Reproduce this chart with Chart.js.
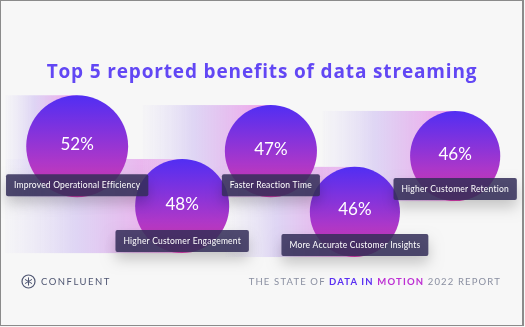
<!DOCTYPE html>
<html>
<head>
<meta charset="utf-8">
<script src="https://cdn.jsdelivr.net/npm/chart.js@4.4.1/dist/chart.umd.min.js"></script>
<style>
    html, body { margin: 0; padding: 0; background: #f7f7f7; }
    #page { position: relative; width: 525px; height: 327px; overflow: hidden; background: #f7f7f7; font-family: Lato, 'Open Sans', sans-serif; }
    #chart { position: absolute; left: 0; top: 0; }
    #title { position: absolute; left: 0; width: 524px; top: 58px; text-align: center; font-family: 'Open Sans', sans-serif; font-weight: 700; font-size: 19px; letter-spacing: 0.85px; line-height: 26px; color: #6247f4; white-space: nowrap; }
    #brand { position: absolute; left: 21px; top: 273px; height: 16px; display: flex; align-items: center; gap: 5px; color: #4f5672; font-size: 9.5px; letter-spacing: 1.5px; }
    #report { position: absolute; right: 24px; top: 276px; font-size: 9.5px; letter-spacing: 1.15px; color: #8a8fa1; line-height: 12px; white-space: nowrap; }
    #report .d { color: #5a2ff2; font-weight: 700; }
    #report .m { color: #bd2fd3; font-weight: 700; }
    #frame { position: absolute; left: 0; top: 0; width: 524px; height: 326px; box-sizing: border-box; border: 1px solid #8b8b8b; border-right-width: 2px; pointer-events: none; }
</style>
</head>
<body>
<div id="page">
    <canvas id="chart" width="525" height="327"></canvas>
    <div id="title">Top 5 reported benefits of data streaming</div>
    <div id="brand">
        <svg width="15" height="15" viewBox="0 0 15 15">
            <circle cx="7.5" cy="7.5" r="6.5" fill="none" stroke="#4f5672" stroke-width="1.2"/>
            <path d="M7.5 3.8 L7.5 11.2 M4.3 5.6 L10.7 9.4 M4.3 9.4 L10.7 5.6" stroke="#4f5672" stroke-width="1" stroke-linecap="round"/>
        </svg>
        <span>CONFLUENT</span>
    </div>
    <div id="report">THE STATE OF <span class="d">DATA IN</span> <span class="m">MOTION</span> 2022 REPORT</div>
    <div id="frame"></div>
</div>
<script>
// benefits, in the order they are laid out from left to right
const benefits = [
    'Improved Operational Efficiency',
    'Higher Customer Engagement',
    'Faster Reaction Time',
    'More Accurate Customer Insights',
    'Higher Customer Retention',
];
const shares = [52, 48, 47, 46, 46];          // % of respondents
const columnX = [14.7, 34.7, 51.6, 67.6, 86.7];  // bubble centre, % of width
const rowBase = [60.3, 77.4, 60.3, 78.6, 61.5];  // bubble bottom, % of height
const trailStart = [1, 1, 27.2, 42.9, 61.5];     // where the trail behind a bubble starts

const bubbleScale = 0.98;

// bubbles sit on their row line instead of being centred on it
const sitOnRow = {
    id: 'sitOnRow',
    afterDatasetsUpdate(chart) {
        chart.getDatasetMeta(0).data.forEach((el) => {
            el.y -= el.options.radius;
        });
    },
};

const trails = {
    id: 'trails',
    beforeDatasetsDraw(chart) {
        const { ctx } = chart;
        const xs = chart.scales.x;
        chart.getDatasetMeta(0).data.forEach((el, i) => {
            const r = el.options.radius;
            const x0 = xs.getPixelForValue(trailStart[i]);
            const g = ctx.createLinearGradient(x0, 0, el.x, 0);
            g.addColorStop(0, 'rgba(226, 222, 246, 0.08)');
            g.addColorStop(0.4, 'rgba(216, 204, 243, 0.8)');
            g.addColorStop(1, 'rgba(242, 160, 233, 1)');
            ctx.save();
            ctx.fillStyle = g;
            ctx.fillRect(x0, el.y - r, el.x - x0, r * 2);
            ctx.restore();
        });
    },
};

const captions = {
    id: 'captions',
    afterDatasetsDraw(chart) {
        const { ctx } = chart;
        chart.getDatasetMeta(0).data.forEach((el, i) => {
            const r = el.options.radius;
            const base = el.y + r;

            ctx.save();
            ctx.fillStyle = '#ffffff';
            ctx.font = '400 17px Lato';
            ctx.textAlign = 'center';
            ctx.textBaseline = 'middle';
            ctx.fillText(shares[i] + '%', el.x, el.y - 2);

            ctx.font = '400 8.5px Lato';
            ctx.letterSpacing = '0.2px';
            const w = ctx.measureText(benefits[i]).width + 16;
            ctx.shadowColor = 'rgba(0, 0, 0, 0.24)';
            ctx.shadowBlur = 14;
            ctx.shadowOffsetY = 7;
            ctx.fillStyle = 'rgba(52, 47, 90, 0.86)';
            ctx.beginPath();
            ctx.roundRect(el.x - w / 2, base - 23, w, 22, 2);
            ctx.fill();
            ctx.shadowColor = 'transparent';
            ctx.fillStyle = '#ffffff';
            ctx.fillText(benefits[i], el.x, base - 11.5);
            ctx.restore();
        });
    },
};

new Chart(document.getElementById('chart'), {
    type: 'bubble',
    data: {
        labels: benefits,
        datasets: [
            {
                label: 'Share of respondents',
                data: shares.map((v, i) => ({ x: columnX[i], y: rowBase[i], r: v * bubbleScale })),
                backgroundColor: (c) => {
                    const { chart, dataIndex } = c;
                    if (!chart.chartArea || dataIndex === undefined) return '#8a3ae0';
                    const base = chart.scales.y.getPixelForValue(rowBase[dataIndex]);
                    const r = shares[dataIndex] * bubbleScale;
                    const g = chart.ctx.createLinearGradient(0, base - 2 * r, 0, base);
                    g.addColorStop(0, '#512ef3');
                    g.addColorStop(1, '#de3cb2');
                    return g;
                },
                borderWidth: 0,
                hoverBorderWidth: 0,
                clip: false,
            },
        ],
    },
    options: {
        responsive: false,
        animation: false,
        events: [],
        layout: { padding: 0, autoPadding: false },
        scales: {
            x: { type: 'linear', min: 0, max: 100, display: false },
            y: { type: 'linear', min: 0, max: 100, reverse: true, display: false },
        },
        plugins: {
            legend: { display: false },
            tooltip: { enabled: false },
        },
    },
    plugins: [sitOnRow, trails, captions],
});
</script>
</body>
</html>
